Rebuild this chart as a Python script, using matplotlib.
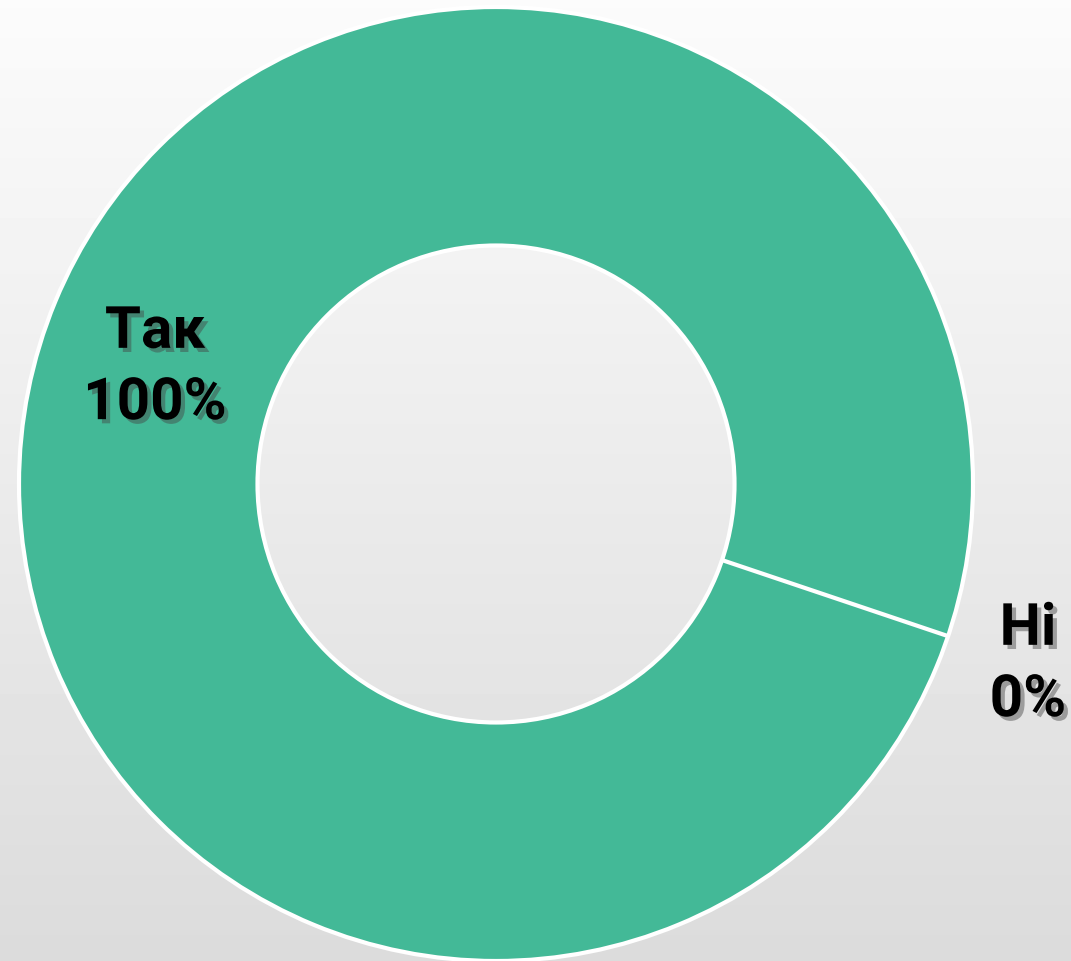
import matplotlib.pyplot as plt
import matplotlib.patheffects as pe
import numpy as np

# dados do grafico
categorias = ["Так", "Ні"]
valores = [100, 0]
rotulos = ["Так\n100%", "Ні\n0%"]

W, H = 1071, 961
fig = plt.figure(figsize=(W / 100, H / 100), dpi=100)

# fundo em degrade (branco -> cinza)
bg = fig.add_axes([0, 0, 1, 1])
grad = np.linspace(0.985, 0.86, 256).reshape(-1, 1)
bg.imshow(grad, cmap="gray", vmin=0, vmax=1, aspect="auto", extent=[0, 1, 0, 1], origin="upper")
bg.set_axis_off()

ax = fig.add_axes([0, 0, 1, 1])
ax.set_xlim(0, W)
ax.set_ylim(0, H)
ax.set_aspect("equal")
ax.set_axis_off()
ax.patch.set_alpha(0)

cx, cy, r = 496, H - 484, 477
ax.pie(valores, colors=["#43B997", "#43B997"], startangle=-18.6, counterclock=True,
       radius=r, center=(cx, cy), frame=True,
       wedgeprops=dict(width=r * 0.5, edgecolor="white", linewidth=3))
ax.set_xlim(0, W)
ax.set_ylim(0, H)
ax.set_axis_off()

sombra = [pe.SimplePatchShadow(offset=(3, -3), shadow_rgbFace="#444444", alpha=0.45), pe.Normal()]
pos = [(155, H - 368), (1028, H - 665)]
for txt, (x, y) in zip(rotulos, pos):
    ax.text(x, y, txt, ha="center", va="center", fontsize=42, fontweight="bold",
            family=["Roboto", "DejaVu Sans"], color="black", linespacing=1.38,
            path_effects=sombra)

fig.savefig("out.png", dpi=100)
